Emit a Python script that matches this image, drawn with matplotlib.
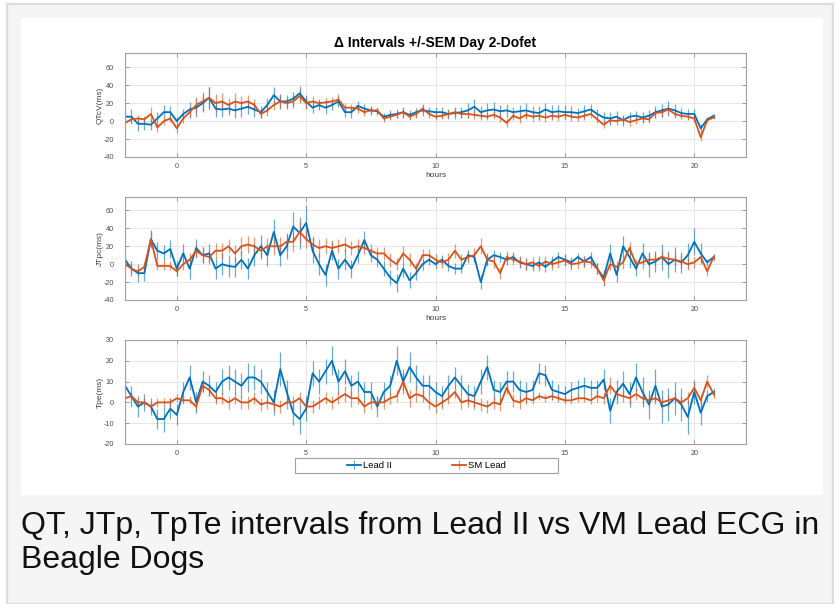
import numpy as np
import matplotlib
matplotlib.use('Agg')
import matplotlib.pyplot as plt
from matplotlib.patches import Rectangle

plt.rcParams['font.family'] = ['Liberation Sans', 'DejaVu Sans']
plt.rcParams['axes.unicode_minus'] = False

# time axis, 15 min steps
hours = np.arange(-2, 20.76, 0.25)

# QTcV (ms)
qt_lead2 = [5, 5, -3, -3, -4, 3, 10, 10, 0, 8,
            13, 15, 20, 26, 14, 13, 14, 12, 14, 16,
            13, 10, 18, 29, 22, 22, 25, 31, 22, 15,
            18, 15, 18, 22, 10, 10, 17, 14, 12, 11,
            5, 7, 8, 10, 7, 10, 12, 11, 10, 10,
            8, 9, 10,
            12, 16, 10, 12, 13, 11, 12, 10, 11, 12,
            10, 9, 13, 10, 11, 10, 10, 9, 11, 13,
            8, 4, 3, 5, 1, 5, 6, 4, 6, 10,
            12, 14, 12, 9, 8, 8, -8, 2, 6]
qt_sm = [-2, 2, 3, 2, 8, -7, 0, 3, -8, 3,
         10, 18, 22, 26, 20, 22, 18, 22, 20, 22,
         18, 8, 12, 18, 22, 20, 22, 28, 20, 22,
         20, 21, 22, 24, 15, 15, 14, 10, 12, 12,
         3, 5, 7, 10, 5, 8, 14, 8, 5, 6,
         8, 10, 8,
         8, 7, 6, 5, 7, 4, -2, 6, 3, 7,
         5, 6, 4, 6, 5, 7, 5, 4, 6, 8,
         2, -4, 1, 0, 2, -1, 1, 3, 2, 9,
         10, 13, 8, 6, 5, 3, -18, 1, 4]
qt_lead2_sem = [6, 8, 8, 7, 6, 7, 8, 7, 5, 6,
                8, 10, 10, 12, 9, 8, 7, 8, 9, 8,
                8, 7, 8, 9, 8, 7, 8, 8, 7, 6,
                6, 7, 6, 6, 5, 6, 5, 5, 5, 4,
                4, 5, 5, 6, 5, 5, 6, 5, 6, 6,
                6, 7, 6,
                8, 9, 7, 8, 8, 7, 7, 6, 7, 8,
                7, 8, 7, 8, 7, 8, 7, 6, 7, 6,
                6, 6, 7, 6, 6, 5, 5, 6, 6, 7,
                7, 8, 7, 6, 6, 5, 5, 3, 2]
qt_sm_sem = [4, 4, 4, 4, 8, 5, 4, 4, 5, 5,
             6, 9, 11, 12, 10, 9, 8, 9, 8, 7,
             7, 5, 6, 6, 7, 6, 7, 8, 7, 6,
             5, 5, 5, 6, 5, 4, 5, 4, 4, 4,
             4, 4, 4, 5, 4, 4, 5, 4, 4, 4,
             4, 4, 4,
             5, 5, 5, 4, 5, 5, 5, 5, 5, 5,
             5, 5, 5, 5, 5, 5, 5, 4, 5, 5,
             4, 4, 4, 4, 4, 4, 4, 4, 4, 5,
             5, 5, 5, 4, 4, 4, 4, 2, 2]

# JTpc (ms)
jt_lead2 = [5, -5, -10, -10, 28, 15, 12, 17, -5, 12,
            -5, 18, 10, 12, -5, 0, -2, -3, 5, -5,
            10, 20, 10, 36, 10, 20, 42, 35, 46, 15,
            0, -12, 15, -5, 5, -5, 10, 27, 10, 5,
            -5, -15, -21, -5, -18, -10, 0, 5, 0, 5,
            -2, -5, -5,
            10, 8, -20, 5, 10, 8, 5, 8, 2, 0,
            -2, 2, -3, 3, 8, 5, 2, 8, 3, 8,
            -5, -15, 12, -12, 20, 8, -5, 12, 0, 3,
            8, 0, 5, 2, 10, 25, 12, 2, 8]
jt_sm = [0, -5, -8, -3, 28, -2, -2, -2, -8, 0,
         5, 15, 10, 8, 15, 15, 20, 12, 20, 22,
         20, 15, 20, 20, 20, 25, 25, 36, 28, 22,
         18, 20, 18, 20, 22, 18, 20, 18, 15, 12,
         12, 5, 0, 12, 5, -5, 10, 10, 5, 2,
         5, 15, 5,
         8, 10, 20, 5, 3, -10, 8, 5, 3, 0,
         2, -2, 3, 0, 2, 4, 0, 1, 3, 2,
         -5, -18, 0, -3, 2, 18, 0, 2, 5, 5,
         8, 6, 5, 3, 0, 2, 8, -8, 8]
jt_lead2_sem = [8, 8, 10, 9, 10, 10, 9, 10, 8, 10,
                12, 10, 9, 10, 11, 12, 12, 11, 10, 12,
                12, 13, 12, 14, 12, 14, 16, 18, 20, 14,
                12, 12, 10, 11, 12, 10, 9, 10, 8, 8,
                8, 8, 10, 9, 9, 8, 6, 6, 5, 5,
                6, 6, 5,
                6, 6, 8, 6, 6, 6, 6, 6, 6, 7,
                6, 7, 6, 6, 6, 6, 6, 5, 6, 6,
                6, 8, 10, 8, 12, 12, 8, 12, 14, 12,
                14, 15, 14, 12, 14, 15, 12, 4, 3]
jt_sm_sem = [5, 5, 5, 5, 8, 5, 5, 5, 5, 6,
             7, 8, 9, 8, 9, 9, 8, 9, 10, 9,
             10, 9, 9, 10, 10, 10, 11, 12, 10, 10,
             10, 9, 9, 8, 8, 8, 8, 7, 7, 7,
             7, 8, 7, 8, 7, 6, 7, 7, 6, 6,
             7, 8, 6,
             7, 8, 9, 7, 7, 7, 7, 6, 6, 6,
             6, 6, 6, 6, 6, 6, 6, 6, 6, 6,
             6, 6, 6, 6, 7, 7, 6, 7, 7, 7,
             7, 7, 7, 7, 7, 6, 6, 5, 3]

# Tpe (ms)
tp_lead2 = [8, 3, -2, 0, -2, -8, -8, -3, -6, 5,
            12, 0, 10, 8, 5, 10, 12, 10, 8, 12,
            12, 10, 5, 0, 16, 5, -5, -8, -3, 14,
            10, 15, 20, 10, 15, 8, 10, 5, 5, -2,
            5, 8, 20, 10, 17, 12, 8, 8, 5, 3,
            8, 12, 8,
            4, 3, 10, 17, 6, 5, 10, 10, 6, 5,
            6, 14, 13, 6, 5, 4, 6, 7, 8, 7,
            7, 11, -4, 5, 9, 4, 12, 5, -1, 8,
            -2, -1, 2, -1, -7, 5, -5, 3, 5]
tp_sm = [2, 3, 0, 0, -2, 0, 0, 0, 2, 1,
         1, -2, 8, 6, 2, 2, 0, 2, 0, 0,
         2, -1, 0, -1, -2, 0, 0, 2, -2, -2,
         0, 2, 0, 2, 4, 2, 2, -2, 0, 0,
         0, 2, 3, 10, 2, 4, 3, 0, -2, 0,
         2, 5, 0,
         1, 0, -1, -2, 0, -1, 7, 1, 0, 2,
         1, 3, 2, 3, 2, 1, 1, 2, 2, 1,
         3, 2, 8, 4, 3, 2, 4, 2, 1, 2,
         0, 1, 2, 0, 2, 7, 1, 10, 4]
tp_lead2_sem = [4, 5, 5, 4, 4, 5, 6, 5, 5, 5,
                6, 5, 5, 5, 5, 6, 6, 6, 6, 7,
                6, 6, 5, 6, 8, 6, 6, 7, 6, 6,
                6, 6, 7, 6, 6, 5, 5, 5, 5, 5,
                5, 5, 7, 6, 7, 6, 5, 5, 5, 5,
                5, 5, 5,
                5, 5, 6, 6, 5, 5, 5, 5, 5, 5,
                5, 5, 5, 5, 4, 4, 4, 4, 4, 4,
                4, 5, 6, 6, 6, 6, 7, 7, 7, 8,
                8, 8, 8, 8, 8, 6, 6, 3, 2]
tp_sm_sem = [2, 2, 2, 2, 2, 2, 2, 2, 2, 2,
             2, 2, 3, 3, 3, 3, 3, 3, 3, 3,
             3, 3, 3, 3, 3, 3, 3, 3, 3, 3,
             3, 3, 3, 3, 4, 4, 3, 3, 3, 3,
             3, 3, 3, 4, 4, 4, 3, 3, 3, 3,
             3, 3, 3,
             3, 3, 3, 3, 3, 3, 3, 3, 3, 3,
             2, 2, 2, 2, 2, 2, 2, 2, 2, 2,
             3, 3, 4, 3, 3, 3, 3, 3, 3, 3,
             3, 3, 3, 3, 3, 3, 3, 3, 2]

blue = '#0072BD'
orange = '#D95319'
W, H = 836, 604

fig = plt.figure(figsize=(W / 100, H / 100), dpi=100, facecolor='white')

# page background + white panel
fig.patches.append(Rectangle((7 / W, 0), 826 / W, 600 / H, transform=fig.transFigure,
                             facecolor='#f5f5f5', edgecolor='#dddddd', lw=1.5, zorder=-3))
fig.patches.append(Rectangle((21 / W, 1 - 495 / H), 802 / W, 477 / H, transform=fig.transFigure,
                             facecolor='white', edgecolor='none', zorder=-2))


def px_axes(left, top, right, bottom):
    return fig.add_axes([left / W, 1 - bottom / H, (right - left) / W, (bottom - top) / H])


panels = [
    (px_axes(125, 53, 746, 157), qt_lead2, qt_lead2_sem, qt_sm, qt_sm_sem,
     'QTcV(ms)', (-40, 76), [-40, -20, 0, 20, 40, 60], True),
    (px_axes(125, 197, 746, 300), jt_lead2, jt_lead2_sem, jt_sm, jt_sm_sem,
     'JTpc(ms)', (-40, 75), [-40, -20, 0, 20, 40, 60], True),
    (px_axes(125, 340, 746, 444), tp_lead2, tp_lead2_sem, tp_sm, tp_sm_sem,
     'Tpe(ms)', (-20, 30), [-20, -10, 0, 10, 20, 30], False),
]

handles = None
for ax, y1, e1, y2, e2, ylab, ylim, yt, show_x in panels:
    h1 = ax.errorbar(hours, y1, yerr=e1, color=blue, lw=1.3, elinewidth=0.9, capsize=0)
    h2 = ax.errorbar(hours, y2, yerr=e2, color=orange, lw=1.3, elinewidth=0.9, capsize=0)
    for h in (h1, h2):
        for b in h[2]:
            b.set_alpha(0.6)
    handles = [h1, h2]
    ax.set_xlim(-2, 22)
    ax.set_ylim(*ylim)
    ax.set_xticks([0, 5, 10, 15, 20])
    ax.set_yticks(yt)
    ax.grid(True, color='#e6e6e6', lw=0.7)
    ax.set_axisbelow(True)
    ax.tick_params(direction='in', length=3, width=0.6, colors='#8c8c8c',
                   labelcolor='#4d4d4d', labelsize=5.2, top=True, right=True)
    ax.tick_params(axis='y', pad=8)
    ax.tick_params(axis='x', pad=4)
    for s in ax.spines.values():
        s.set_color('#a0a0a0')
        s.set_linewidth(0.8)
    ax.set_ylabel(ylab, fontsize=6, color='#404040')
    ax.yaxis.set_label_coords(-0.034, 0.5)
    if show_x:
        ax.set_xlabel('hours', fontsize=6, color='#404040', labelpad=2)

panels[0][0].set_title('\u0394 Intervals +/-SEM Day 2-Dofet', fontsize=10,
                       fontweight='bold', pad=4)

leg = fig.legend(handles, ['Lead II', 'SM Lead'], loc='center',
                 bbox_to_anchor=(426.5 / W, 1 - 465.5 / H), ncol=2, frameon=False,
                 fontsize=6.8, columnspacing=6.4, handlelength=1.5, handletextpad=0.2)
fig.patches.append(Rectangle((295 / W, 1 - 473 / H), 263 / W, 15 / H, transform=fig.transFigure,
                             facecolor='none', edgecolor='#a0a0a0', lw=0.8))

fig.text(21 / W, 1 - 534 / H, 'QT, JTp, TpTe intervals from Lead II vs VM Lead ECG in',
         fontsize=23, va='baseline', color='#111111')
fig.text(21 / W, 1 - 568 / H, 'Beagle Dogs', fontsize=23, va='baseline', color='#111111')

fig.savefig('out.png', dpi=100, facecolor=fig.get_facecolor())
